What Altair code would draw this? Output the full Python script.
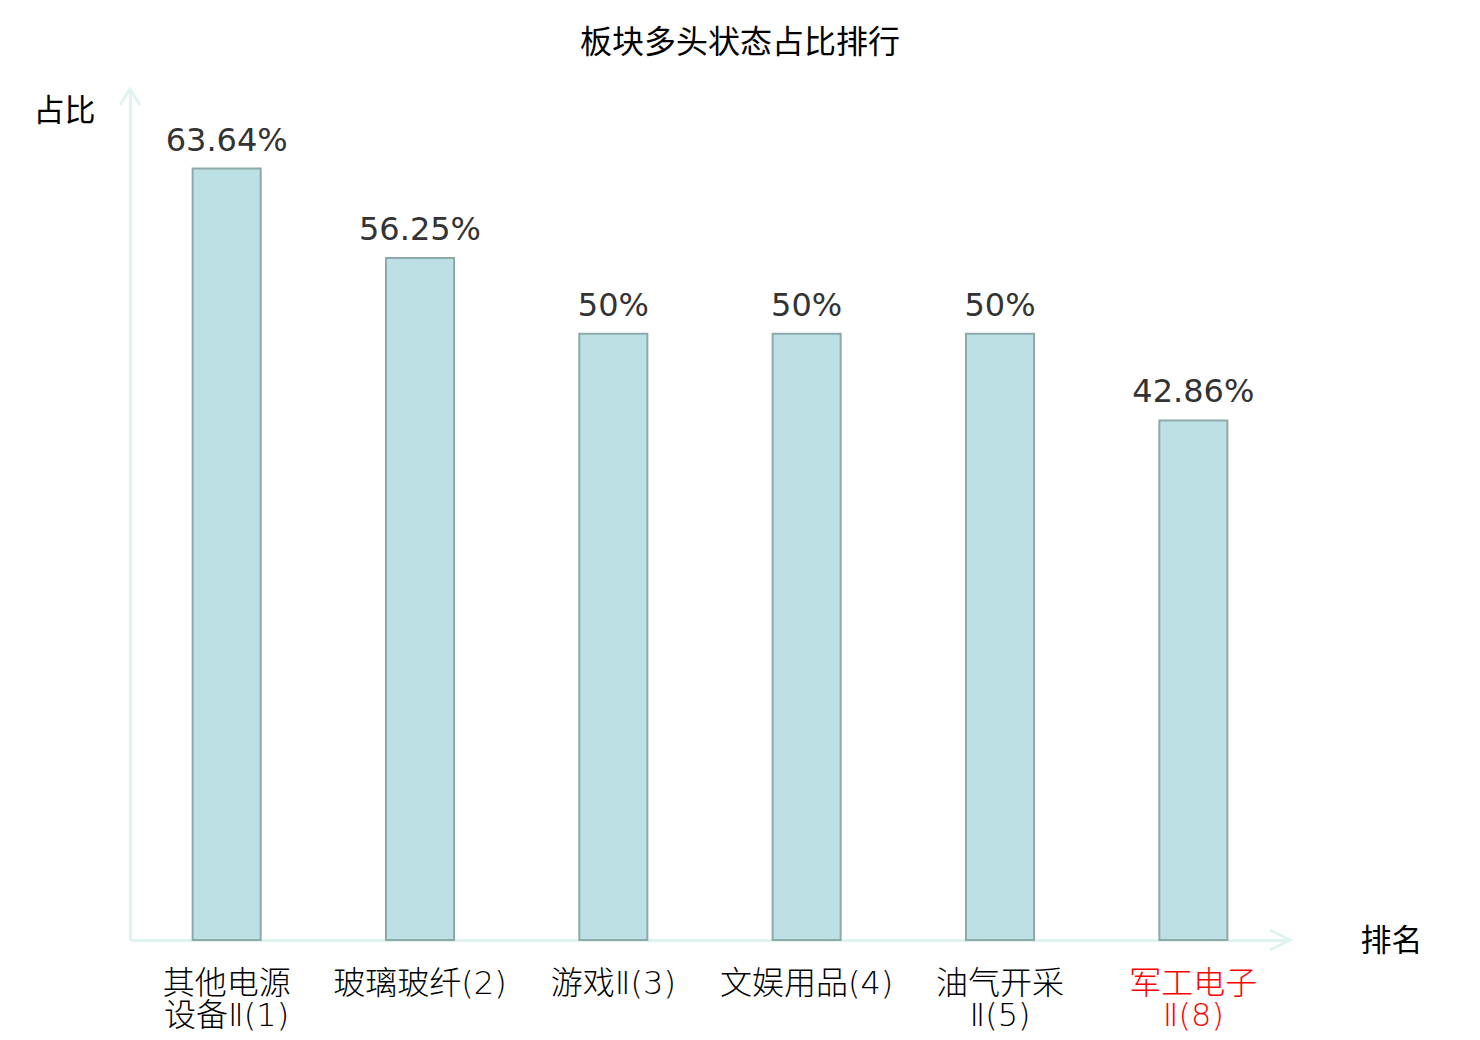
import altair as alt
import pandas as pd

categories = ["其他电源\n设备Ⅱ(1)", "玻璃玻纤(2)", "游戏Ⅱ(3)", "文娱用品(4)", "油气开采\nⅡ(5)", "军工电子\nⅡ(8)"]
values = [63.64, 56.25, 50, 50, 50, 42.86]
value_labels = ["63.64%", "56.25%", "50%", "50%", "50%", "42.86%"]
highlight = "军工电子\nⅡ(8)"

df = pd.DataFrame({"cat": categories, "val": values, "lab": value_labels})

AXIS_COLOR = "#dff3f0"
CJK = "Noto Sans CJK SC"

x_enc = alt.X(
    "cat:N",
    sort=categories,
    scale=alt.Scale(paddingInner=0.648, paddingOuter=0.324),
    axis=alt.Axis(
        title="排名",
        titleX=1261,
        titleY=1,
        titleAlign="center",
        titleBaseline="middle",
        titleAngle=0,
        titleFont=CJK,
        titleFontSize=31,
        titleFontWeight="normal",
        titleColor="#000",
        labelExpr="split(datum.label, '\\n')",
        labelColor={"expr": f"datum.value == {highlight!r} ? '#ff0000' : '#000000'"},
        labelFont="DejaVu Sans, Noto Sans CJK SC",
        labelFontWeight=200,
        labelFontSize=32,
        labelLineHeight=32,
        labelAngle=0,
        labelPadding=28,
        labelLimit=300,
        ticks=False,
        grid=False,
        domainColor=AXIS_COLOR,
        domainWidth=3,
    ),
)

y_enc = alt.Y(
    "val:Q",
    scale=alt.Scale(domain=[0, 70.2], nice=False),
    axis=alt.Axis(
        title="占比",
        titleX=-66,
        titleY=22,
        titleAlign="center",
        titleBaseline="middle",
        titleAngle=0,
        titleFont=CJK,
        titleFontSize=31,
        titleFontWeight="normal",
        titleColor="#000",
        labels=False,
        ticks=False,
        grid=False,
        domainColor=AXIS_COLOR,
        domainWidth=3,
    ),
)

base = alt.Chart(df)

bars = base.mark_bar(fill="#bce0e3", stroke="#8ea9aa", strokeWidth=2).encode(x=x_enc, y=y_enc)

texts = base.mark_text(
    dy=-18, baseline="alphabetic", align="center", fontSize=32, font="DejaVu Sans", color="#333333"
).encode(x=alt.X("cat:N", sort=categories), y="val:Q", text="lab:N")

one = pd.DataFrame({"a": [0]})
x_arrow = alt.Chart(one).mark_point(
    shape="M-20,-10L0,0L-20,10", size=4, filled=False, stroke=AXIS_COLOR, strokeWidth=3, opacity=1
).encode(x=alt.value(1160), y=alt.value(851))
y_arrow = alt.Chart(one).mark_point(
    shape="M-10,16L0,0L10,16", size=4, filled=False, stroke=AXIS_COLOR, strokeWidth=3, opacity=1
).encode(x=alt.value(0), y=alt.value(0))

chart = (
    alt.layer(bars, texts, x_arrow, y_arrow)
    .properties(
        width=1160,
        height=851,
        autosize=alt.AutoSizeParams(type="none"),
        padding={"left": 122, "top": 81, "right": 182, "bottom": 92},
        title=alt.TitleParams(
            "板块多头状态占比排行",
            font=CJK,
            fontSize=32,
            fontWeight="normal",
            color="#000",
            anchor="middle",
            dx=30,
            offset=23,
        ),
    )
    .configure_view(stroke=None)
)

chart.save("out.html", embed_options={"renderer": "svg", "actions": False})
